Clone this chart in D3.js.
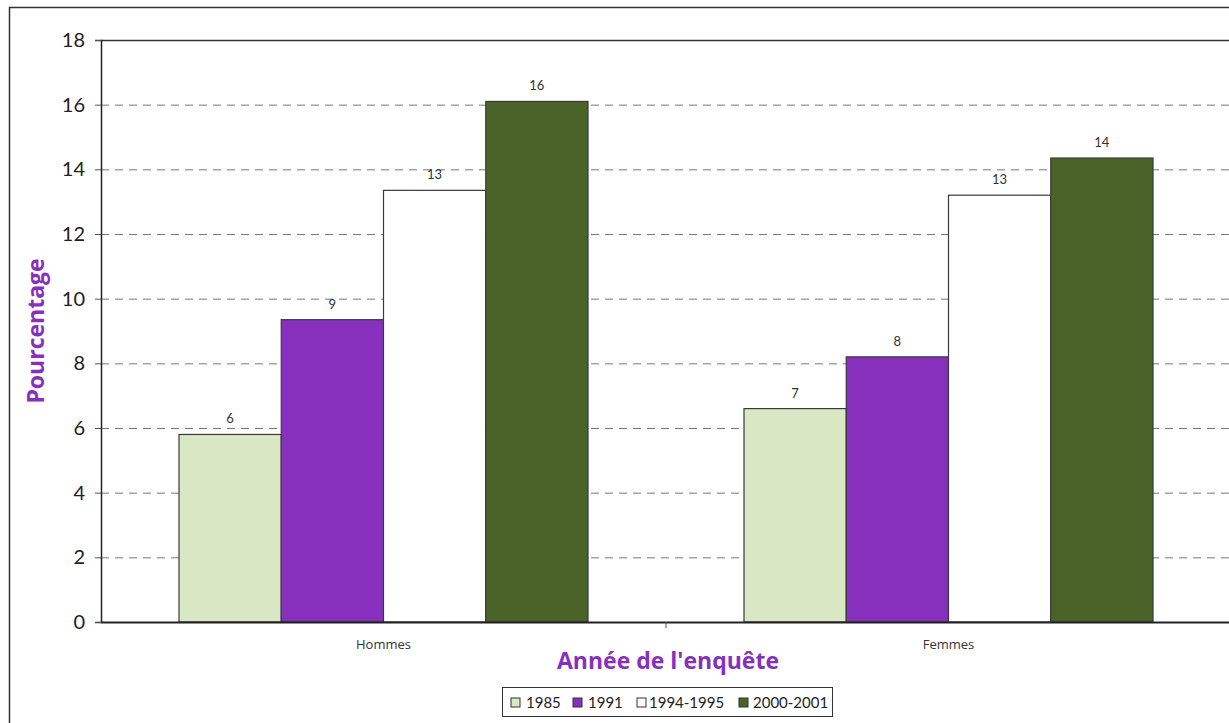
<!DOCTYPE html>
<html>
<head>
<meta charset="utf-8">
<script src="https://cdn.jsdelivr.net/npm/d3@7"></script>
<style>
  body { margin: 0; background: #fff; }
  svg { display: block; font-family: "Lato", "Open Sans", sans-serif; }
</style>
</head>
<body>
<svg id="chart" width="1229" height="723"></svg>
<script>
// data
const categories = ["Hommes", "Femmes"];
const years = ["1985", "1991", "1994-1995", "2000-2001"];
const values1985 = [5.8, 6.6];
const values1991 = [9.35, 8.2];
const values1994 = [13.35, 13.2];
const values2000 = [16.1, 14.35];
const yTicks = [0, 2, 4, 6, 8, 10, 12, 14, 16, 18];

const colors = ["#d9e7c4", "#8830be", "#ffffff", "#4a6328"];
const seriesValues = [values1985, values1991, values1994, values2000];

const svg = d3.select("#chart");
const margin = { left: 101, top: 40, right: -2, bottom: 101 };
const width = 1229 - margin.left - margin.right;
const height = 723 - margin.top - margin.bottom;

// outer frame
svg.append("rect")
    .attr("x", 9.5).attr("y", 7.5)
    .attr("width", 1240).attr("height", 740)
    .attr("fill", "none").attr("stroke", "#333").attr("stroke-width", 1.5);

const g = svg.append("g").attr("transform", `translate(${margin.left},${margin.top})`);

const x = d3.scaleBand().domain(categories).range([0, width]);
const xInner = d3.scaleBand().domain(years).range([78, x.bandwidth() - 78]);
const y = d3.scaleLinear().domain([0, 18]).range([height, 0]);

// dashed grid
g.selectAll(".grid")
    .data(yTicks.filter(t => t > 0 && t < 18))
    .enter().append("line")
    .attr("x1", 0).attr("x2", width)
    .attr("y1", d => y(d) + 0.5).attr("y2", d => y(d) + 0.5)
    .attr("stroke", "#777")
    .attr("stroke-dasharray", "8,6");

// top border of the plot
g.append("line")
    .attr("x1", 0).attr("x2", width)
    .attr("y1", 0.5).attr("y2", 0.5)
    .attr("stroke", "#333").attr("stroke-width", 1.5);

// bars
const groups = g.selectAll(".group")
    .data(categories)
    .enter().append("g")
    .attr("transform", d => `translate(${x(d)},0)`);

groups.each(function (cat, ci) {
    const grp = d3.select(this);
    years.forEach((yr, si) => {
        const v = seriesValues[si][ci];
        grp.append("rect")
            .attr("x", xInner(yr))
            .attr("y", y(v))
            .attr("width", xInner.bandwidth())
            .attr("height", y(0) - y(v))
            .attr("fill", colors[si])
            .attr("stroke", "#3a3a3a")
            .attr("stroke-width", 1.2);
        grp.append("text")
            .attr("x", xInner(yr) + xInner.bandwidth() / 2)
            .attr("y", y(v) - 11)
            .attr("text-anchor", "middle")
            .attr("font-size", "13px")
            .attr("fill", "#333")
            .text(Math.round(v));
    });
});

// y axis
const yAxis = g.append("g")
    .call(d3.axisLeft(y).tickValues(yTicks).tickSize(6).tickPadding(10));
yAxis.select(".domain").attr("stroke", "#222").attr("stroke-width", 1.5);
yAxis.selectAll(".tick line").attr("stroke", "#555");
yAxis.selectAll("text").attr("font-size", "20px").attr("fill", "#222")
    .attr("font-family", "Lato, sans-serif");

// x axis
const xAxis = g.append("g")
    .attr("transform", `translate(0,${height})`)
    .call(d3.axisBottom(x).tickSize(0).tickPadding(18));
xAxis.select(".domain").attr("stroke", "#222").attr("stroke-width", 2);
xAxis.selectAll("text").attr("font-size", "13px").attr("fill", "#333")
    .attr("font-family", "'Open Sans', sans-serif");
// separator tick between categories
xAxis.append("line")
    .attr("x1", x("Femmes")).attr("x2", x("Femmes"))
    .attr("y1", 0).attr("y2", 6)
    .attr("stroke", "#555");

// axis titles
svg.append("text")
    .attr("transform", "translate(44,331) rotate(-90)")
    .attr("text-anchor", "middle")
    .attr("font-family", "'Open Sans', sans-serif")
    .attr("font-size", "23px")
    .attr("font-weight", "bold")
    .attr("fill", "#8830be")
    .text("Pourcentage");

svg.append("text")
    .attr("x", 668).attr("y", 669)
    .attr("text-anchor", "middle")
    .attr("font-family", "'Open Sans', sans-serif")
    .attr("font-size", "23px")
    .attr("font-weight", "bold")
    .attr("fill", "#8830be")
    .text("Année de l'enquête");

// legend
const legend = svg.append("g").attr("transform", "translate(502,687)");
legend.append("rect")
    .attr("x", 0.5).attr("y", 0.5)
    .attr("width", 330).attr("height", 29)
    .attr("fill", "#fff").attr("stroke", "#333");
const swatchX = [9, 71, 135, 237];
const labelX = [24, 86, 147, 251];
years.forEach((yr, i) => {
    legend.append("rect")
        .attr("x", swatchX[i]).attr("y", 11)
        .attr("width", 9).attr("height", 9)
        .attr("fill", colors[i]).attr("stroke", "#333");
    legend.append("text")
        .attr("x", labelX[i]).attr("y", 21)
        .attr("font-size", "15px")
        .attr("fill", "#222")
        .text(yr);
});
</script>
</body>
</html>
